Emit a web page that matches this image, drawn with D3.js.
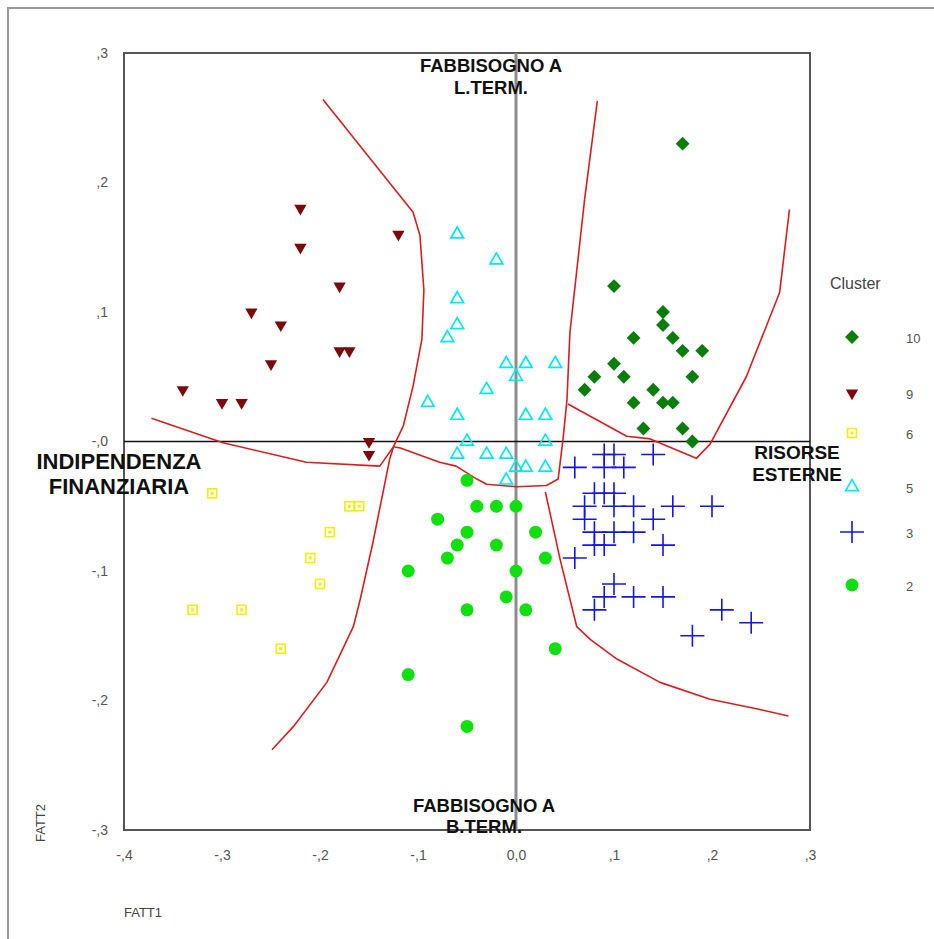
<!DOCTYPE html>
<html>
<head>
<meta charset="utf-8">
<script src="https://cdn.jsdelivr.net/npm/d3@7"></script>
<style>
  body { margin: 0; background: #fff; }
  svg text { font-family: "Liberation Sans", Arial, sans-serif; }
</style>
</head>
<body>
<div id="chart"></div>
<script>
// cluster scores (FATT1, FATT2)
const cluster10 = [[0.17,0.23],[0.10,0.12],[0.15,0.10],[0.15,0.09],[0.12,0.08],[0.16,0.08],
  [0.17,0.07],[0.19,0.07],[0.10,0.06],[0.08,0.05],[0.11,0.05],[0.18,0.05],[0.07,0.04],
  [0.14,0.04],[0.12,0.03],[0.15,0.03],[0.16,0.03],[0.13,0.01],[0.17,0.01],[0.18,0.00]];
const cluster9 = [[-0.22,0.18],[-0.22,0.15],[-0.12,0.16],[-0.18,0.12],[-0.27,0.10],[-0.24,0.09],
  [-0.18,0.07],[-0.17,0.07],[-0.25,0.06],[-0.34,0.04],[-0.30,0.03],[-0.28,0.03],
  [-0.15,0.00],[-0.15,-0.01]];
const cluster6 = [[-0.31,-0.04],[-0.17,-0.05],[-0.16,-0.05],[-0.19,-0.07],[-0.21,-0.09],
  [-0.20,-0.11],[-0.33,-0.13],[-0.28,-0.13],[-0.24,-0.16]];
const cluster5 = [[-0.06,0.16],[-0.02,0.14],[-0.06,0.11],[-0.06,0.09],[-0.07,0.08],[-0.01,0.06],
  [0.01,0.06],[0.04,0.06],[0.00,0.05],[-0.03,0.04],[-0.09,0.03],[-0.06,0.02],[0.01,0.02],
  [0.03,0.02],[-0.05,0.00],[0.03,0.00],[-0.06,-0.01],[-0.03,-0.01],[-0.01,-0.01],
  [0.00,-0.02],[0.01,-0.02],[0.03,-0.02],[-0.01,-0.03]];
const cluster3 = [[0.09,-0.01],[0.10,-0.01],[0.14,-0.01],[0.06,-0.02],[0.09,-0.02],[0.11,-0.02],
  [0.08,-0.04],[0.09,-0.04],[0.10,-0.04],[0.07,-0.05],[0.10,-0.05],[0.12,-0.05],[0.16,-0.05],
  [0.20,-0.05],[0.07,-0.06],[0.14,-0.06],[0.08,-0.07],[0.10,-0.07],[0.12,-0.07],[0.08,-0.08],
  [0.09,-0.08],[0.15,-0.08],[0.06,-0.09],[0.10,-0.11],[0.09,-0.12],[0.12,-0.12],[0.15,-0.12],
  [0.08,-0.13],[0.21,-0.13],[0.24,-0.14],[0.18,-0.15]];
const cluster2 = [[-0.05,-0.03],[-0.04,-0.05],[-0.02,-0.05],[0.00,-0.05],[-0.08,-0.06],[-0.05,-0.07],
  [0.02,-0.07],[-0.06,-0.08],[-0.02,-0.08],[-0.07,-0.09],[0.03,-0.09],[-0.11,-0.10],[0.00,-0.10],
  [-0.01,-0.12],[-0.05,-0.13],[0.01,-0.13],[0.04,-0.16],[-0.11,-0.18],[-0.05,-0.22]];

// hand drawn cluster borders
const borderA = [[-0.197,0.264],[-0.105,0.177],[-0.098,0.159],[-0.094,0.117],[-0.096,0.079],
  [-0.105,0.043],[-0.115,0.012],[-0.125,-0.004]];
const borderB = [[-0.372,0.018],[-0.299,-0.001],[-0.214,-0.016],[-0.139,-0.019],[-0.125,-0.004]];
const borderC = [[-0.125,-0.004],[-0.118,-0.005],[-0.078,-0.016],[-0.061,-0.019],[-0.040,-0.029],
  [-0.030,-0.033],[0.001,-0.035],[0.031,-0.034],[0.043,-0.029],[0.048,0.002],[0.052,0.032],
  [0.055,0.084],[0.070,0.187],[0.083,0.263]];
const borderD = [[-0.125,-0.004],[-0.129,-0.014],[-0.146,-0.078],[-0.159,-0.122],[-0.166,-0.143],
  [-0.193,-0.186],[-0.227,-0.220],[-0.249,-0.238]];
const borderE = [[0.030,-0.039],[0.045,-0.091],[0.062,-0.143],[0.076,-0.153],[0.103,-0.168],
  [0.147,-0.186],[0.198,-0.199],[0.249,-0.207],[0.278,-0.212]];
const borderF = [[0.053,0.029],[0.113,0.004],[0.137,0.002],[0.184,-0.013],[0.198,-0.002],
  [0.235,0.050],[0.269,0.115],[0.279,0.179]];

const xTicks = [-0.4,-0.3,-0.2,-0.1,0,0.1,0.2,0.3];
const xTickLabels = ["-,4","-,3","-,2","-,1","0,0",",1",",2",",3"];
const yTicks = [0.3,0.2,0.1,0,-0.1,-0.2,-0.3];
const yTickLabels = [",3",",2",",1","-,0","-,1","-,2","-,3"];

const legendNames = ["10","9","6","5","3","2"];

const width = 934, height = 939;
const svg = d3.select("#chart").append("svg")
  .attr("width", width)
  .attr("height", height);

// outer frame (only top / left visible)
svg.append("path")
  .attr("d", "M8,939V8H934")
  .attr("fill", "none")
  .attr("stroke", "#9a9a9a")
  .attr("stroke-width", 2);

const x = d3.scaleLinear().domain([-0.4, 0.3]).range([124, 810]);
const y = d3.scaleLinear().domain([-0.3, 0.3]).range([830, 53]);

// plot box
svg.append("rect")
  .attr("x", x(-0.4)).attr("y", y(0.3))
  .attr("width", x(0.3) - x(-0.4)).attr("height", y(-0.3) - y(0.3))
  .attr("fill", "none")
  .attr("stroke", "#555")
  .attr("stroke-width", 2);

// axes, labels only
const xAxis = svg.append("g")
  .attr("transform", `translate(0,${y(-0.3) + 17})`)
  .call(d3.axisBottom(x).tickValues(xTicks).tickSize(0)
    .tickFormat((d, i) => xTickLabels[i]));
const yAxis = svg.append("g")
  .attr("transform", `translate(${x(-0.4) - 13},0)`)
  .call(d3.axisLeft(y).tickValues(yTicks).tickSize(0)
    .tickFormat((d, i) => yTickLabels[i]));
[xAxis, yAxis].forEach(a => {
  a.select(".domain").remove();
  a.selectAll("text")
    .attr("font-family", "Liberation Sans, Arial, sans-serif")
    .attr("font-size", 14)
    .attr("fill", "#555");
});

// zero lines
svg.append("line")
  .attr("x1", x(0)).attr("x2", x(0)).attr("y1", y(0.3)).attr("y2", y(-0.3))
  .attr("stroke", "#8c8c8c").attr("stroke-width", 3);
svg.append("line")
  .attr("x1", x(-0.4)).attr("x2", x(0.3)).attr("y1", y(0)).attr("y2", y(0))
  .attr("stroke", "#111").attr("stroke-width", 1.5);

// borders
const line = d3.line().x(d => x(d[0])).y(d => y(d[1]));
[borderA, borderB, borderC, borderD, borderE, borderF].forEach(b => {
  svg.append("path")
    .attr("d", line(b))
    .attr("fill", "none")
    .attr("stroke", "#d81e1e")
    .attr("stroke-width", 1.6)
    .attr("stroke-linejoin", "round");
});

// marker shapes
function drawMarker(g, type) {
  if (type === "10") {
    g.append("path").attr("d", d3.symbol(d3.symbolSquare, 96)())
      .attr("transform", "rotate(45)").attr("fill", "#0a7d0a");
  } else if (type === "9") {
    g.append("path").attr("d", d3.symbol(d3.symbolTriangle, 66)())
      .attr("transform", "rotate(180)").attr("fill", "#7d0a0a");
  } else if (type === "6") {
    g.append("rect").attr("x", -4.5).attr("y", -4.5).attr("width", 9).attr("height", 9)
      .attr("fill", "none").attr("stroke", "#f2f000").attr("stroke-width", 1.6);
    g.append("rect").attr("x", -1.5).attr("y", -1.5).attr("width", 3).attr("height", 3)
      .attr("fill", "#f2f000");
  } else if (type === "5") {
    g.append("path").attr("d", d3.symbol(d3.symbolTriangle, 70)())
      .attr("fill", "none").attr("stroke", "#00e8f0").attr("stroke-width", 1.7);
  } else if (type === "3") {
    g.append("path").attr("d", "M-12,0H12M0,-11V11")
      .attr("stroke", "#1414f0").attr("stroke-width", 1.6);
  } else if (type === "2") {
    g.append("circle").attr("r", 6.5).attr("fill", "#10e010");
  }
}

const groups = [["2", cluster2], ["6", cluster6], ["9", cluster9], ["10", cluster10],
  ["3", cluster3], ["5", cluster5]];
groups.forEach(([type, pts]) => {
  svg.append("g").selectAll("g")
    .data(pts)
    .join("g")
    .attr("transform", d => `translate(${x(d[0])},${y(d[1])})`)
    .each(function() { drawMarker(d3.select(this), type); });
});

// pole labels, one text per line
function pole(lines, cx, cy, size, gap) {
  lines.forEach((s, i) => {
    svg.append("text")
      .attr("x", cx).attr("y", cy + i * gap)
      .attr("text-anchor", "middle")
      .attr("font-weight", "bold")
      .attr("font-size", size)
      .attr("fill", "#111")
      .text(s);
  });
}
pole(["FABBISOGNO A", "L.TERM."], 491, 72, 18.5, 22);
pole(["FABBISOGNO A", "B.TERM."], 484, 812, 18.5, 21);
pole(["INDIPENDENZA", "FINANZIARIA"], 119, 469, 22, 25);
pole(["RISORSE", "ESTERNE"], 797, 459, 19, 22);

// axis titles
svg.append("text")
  .attr("x", 124).attr("y", 917)
  .attr("font-size", 13).attr("fill", "#444")
  .text("FATT1");
svg.append("text")
  .attr("transform", "translate(45,842) rotate(-90)")
  .attr("font-size", 13).attr("fill", "#444")
  .text("FATT2");

// legend
svg.append("text")
  .attr("x", 830).attr("y", 289)
  .attr("font-size", 16).attr("fill", "#444")
  .text("Cluster");
const legendY = [337, 393, 433, 487, 532, 585];
legendNames.forEach((n, i) => {
  const g = svg.append("g").attr("transform", `translate(852,${legendY[i]})`);
  drawMarker(g, n);
  svg.append("text")
    .attr("x", 906).attr("y", legendY[i] + 6)
    .attr("font-size", 13).attr("fill", "#555")
    .text(n);
});
</script>
</body>
</html>
